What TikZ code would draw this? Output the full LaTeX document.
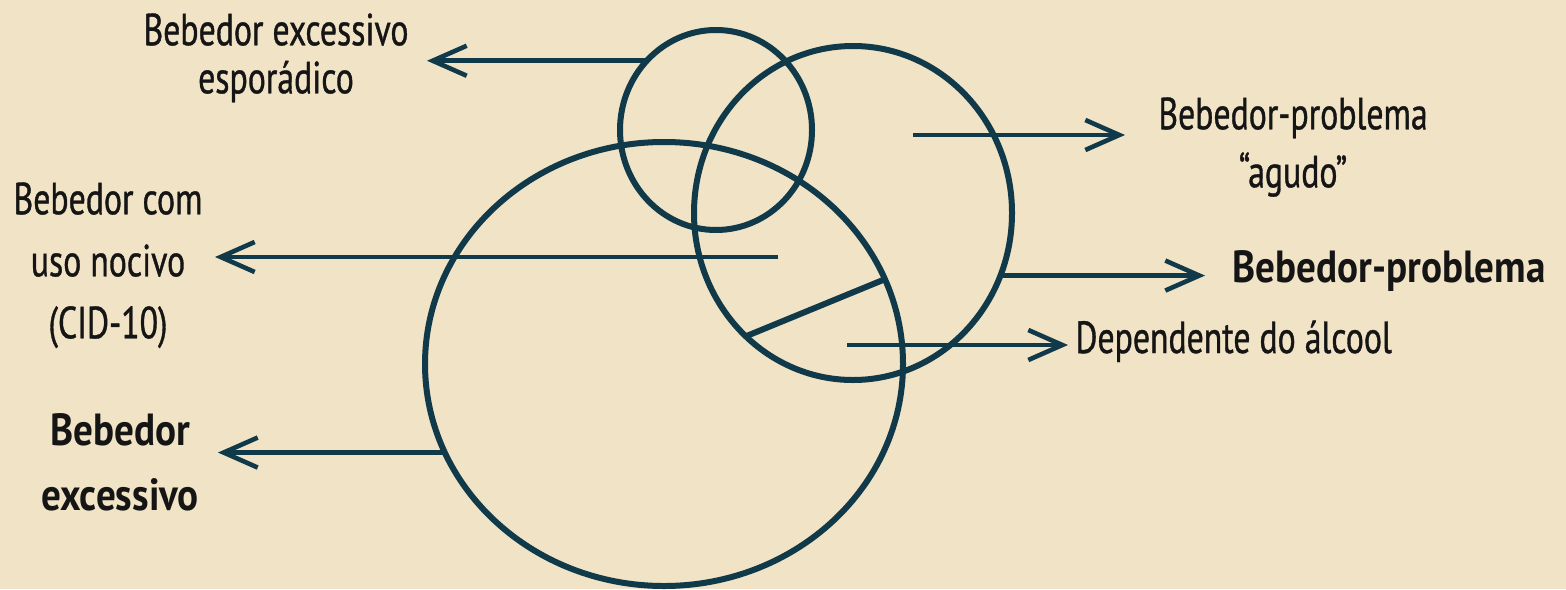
\documentclass[tikz,border=0pt]{standalone}
\usepackage{fontspec}
\setmainfont{PT Sans}[FakeStretch=0.75, FakeBold=0.8]
\newfontfamily\negrito{PT Sans}[FakeStretch=0.87]
\usepackage{xcolor}
\usepackage{tikz}
\usetikzlibrary{shapes.geometric, positioning, arrows.meta}
\definecolor{tinta}{HTML}{103A4A}
\definecolor{papel}{HTML}{F1E3C6}
\definecolor{texto}{HTML}{151515}

\begin{document}
\begin{tikzpicture}[
    x=0.5pt, y=-0.5pt,
    circ/.style={draw=tinta, ellipse, line width=3pt, inner sep=0pt, outer sep=0pt},
    chord/.style={draw=tinta, line width=3pt},
    arr/.style={draw=tinta, line width=2.3pt, -{Straight Barb[length=17pt, width=15pt]}},
    lbl/.style={inner sep=0pt, align=center, text=texto, font=\fontsize{22.5}{31}\selectfont},
    lblbold/.style={font=\fontsize{22.5}{32.5}\selectfont\negrito\bfseries}
]
\fill[papel] (0,0) rectangle (1566,589);
\useasboundingbox (0,0) rectangle (1566,589);

% conjuntos
\node[circ, minimum width=239pt, minimum height=222pt] (excessivo) at (664,364) {};
\node[circ, minimum width=159pt, minimum height=167pt] (problema) at (853,213) {};
\node[circ, minimum width=96pt, minimum height=100pt] (esporadico) at (716,130) {};
\draw[chord] (problema.229) -- (excessivo.21);

% rotulos
\node[lbl, anchor=north, font=\fontsize{22.5}{24}\selectfont] (lEsp) at (276,13) {Bebedor excessivo\\esporádico};
\node[lbl, anchor=north] (lNocivo) at (108,182) {Bebedor com\\uso nocivo\\(CID-10)};
\node[lbl, lblbold, anchor=north] (lExc) at (120,413) {Bebedor\\excessivo};
\node[lbl, anchor=north, font=\fontsize{22.5}{29}\selectfont] (lAgudo) at (1293,97) {Bebedor-problema\\``agudo''};
\node[lbl, lblbold, anchor=base west] (lProb) at (1232,282) {Bebedor-problema};
\node[lbl, anchor=base west] (lDep) at (1075,353) {Dependente do álcool};

% setas
\coordinate (pEsp) at (427,60);
\coordinate (sNoc) at (778,257);
\coordinate (pNoc) at (215,257);
\coordinate (pExc) at (218,450);
\coordinate (sAg) at (913,135);
\coordinate (pAg) at (1125,135);
\coordinate (pProb) at (1205,277);
\coordinate (sDep) at (847,345);
\coordinate (pDep) at (1068,345);

\draw[arr] (esporadico.135) -- (esporadico.135 -| pEsp);
\draw[arr] (sNoc) -- (pNoc);
\draw[arr] (excessivo.202) -- (excessivo.202 -| pExc);
\draw[arr] (sAg) -- (pAg);
\draw[arr] (problema.337) -- (problema.337 -| pProb);
\draw[arr] (sDep) -- (pDep);
\end{tikzpicture}
\end{document}
